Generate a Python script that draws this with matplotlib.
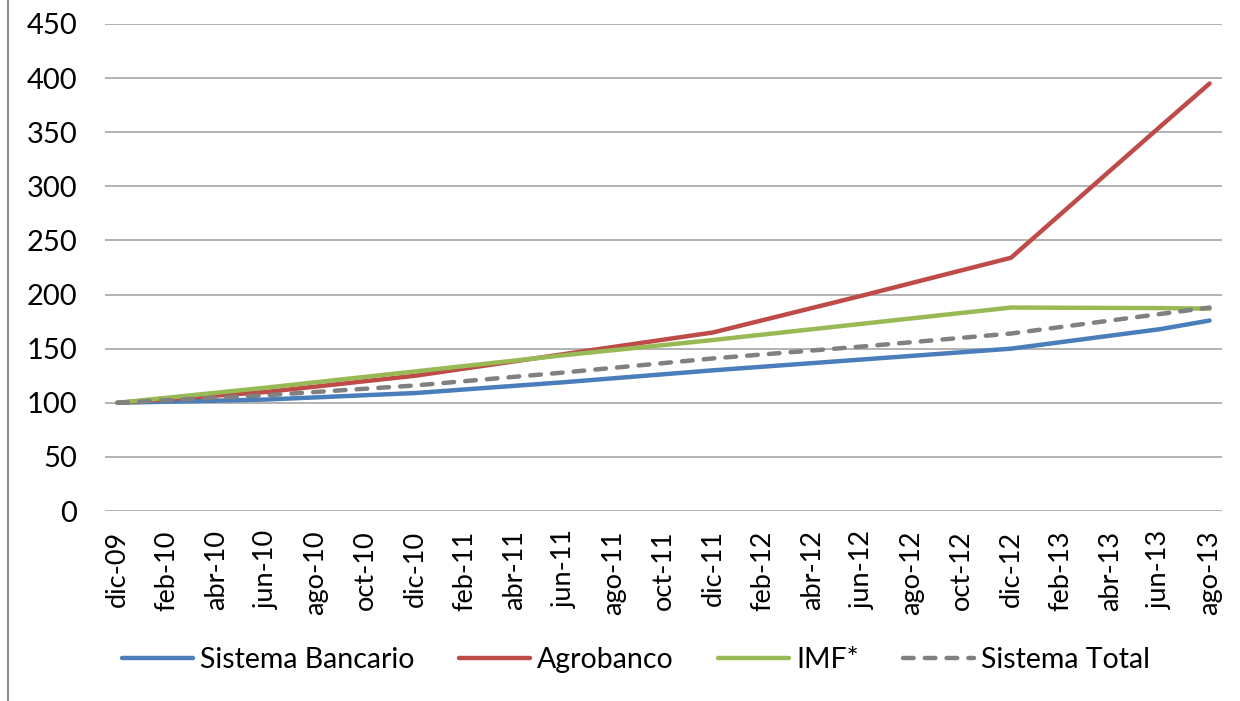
import matplotlib.pyplot as plt
import numpy as np

# meses (eje de categorias mensual, etiqueta cada 2 meses)
abrev = ['ene', 'feb', 'mar', 'abr', 'may', 'jun', 'jul', 'ago', 'sep', 'oct', 'nov', 'dic']
meses = ['dic-09'] + ['%s-%02d' % (abrev[m], a) for a in range(10, 14) for m in range(12)]
meses = meses[:meses.index('ago-13') + 1]

# puntos con dato (semestrales + ultimo mes)
fechas = ['dic-09', 'jun-10', 'dic-10', 'jun-11', 'dic-11', 'jun-12', 'dic-12', 'jun-13', 'ago-13']

sistema_bancario = [100, 103, 109, 119, 130, 140, 150, 168, 176]
agrobanco = [100, 110, 125, 145, 165, 199, 234, 355, 395]
imf = [100, 114, 129, 144, 158, 173, 188, 187.5, 187]
sistema_total = [100, 107, 116, 128, 141, 152, 164, 182, 188]

series = [('Sistema Bancario', sistema_bancario, '#4A7EBB', '-'),
          ('Agrobanco', agrobanco, '#BE4B48', '-'),
          ('IMF*', imf, '#98B954', '-'),
          ('Sistema Total', sistema_total, '#808080', (0, (2.4, 2.5)))]

plt.rcParams['font.family'] = ['Lato', 'DejaVu Sans']

fig = plt.figure(figsize=(12.4, 7.01), dpi=100)
ax = fig.add_axes([105 / 1240, 1 - 511 / 701, (1222 - 105) / 1240, (511 - 24) / 701])

xi = [meses.index(f) for f in fechas]
for nombre, valores, color, estilo in series:
    ax.plot(xi, valores, color=color, lw=3.2, ls=estilo, label=nombre,
            solid_capstyle='round', dash_capstyle='round')

ax.set_ylim(0, 450)
ax.set_yticks(np.arange(0, 451, 50))
ax.set_xlim(-0.5, len(meses) - 0.5)
ticks = list(range(0, len(meses), 2))
ax.set_xticks(ticks)
ax.set_xticklabels([meses[i] for i in ticks], rotation=90)
ax.tick_params(axis='y', length=0, labelsize=21, colors='#000000', pad=20)
ax.tick_params(axis='x', length=0, labelsize=19.5, colors='#000000', pad=14)
ax.grid(axis='y', color='#A6A6A6', lw=1.2)
ax.set_axisbelow(True)
for s in ax.spines.values():
    s.set_visible(False)

leg = fig.legend(loc='center', bbox_to_anchor=(0.513, 1 - 660 / 701), ncol=4, frameon=False,
                 fontsize=20.5, handlelength=2.5, handletextpad=0.25, columnspacing=1.55)

# borde izquierdo del grafico
fig.add_artist(plt.Line2D([8 / 1240, 8 / 1240], [0, 1], color='#8C8C8C', lw=1.5))

plt.savefig('out.png', dpi=100)
